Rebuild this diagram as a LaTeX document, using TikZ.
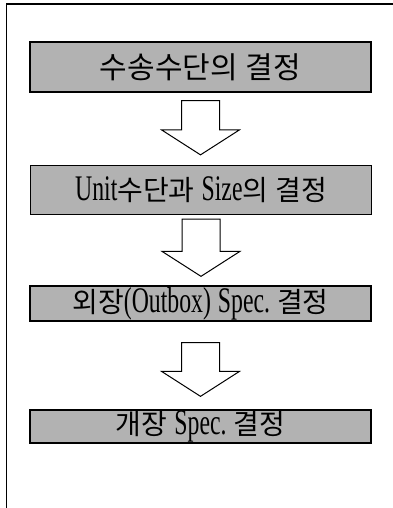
\documentclass[tikz,border=0pt]{standalone}
\usepackage{fontspec}
\setmainfont{Liberation Serif}
\newfontfamily\kr{Noto Sans CJK KR}
\usetikzlibrary{calc}
\newcommand{\lt}[1]{\scalebox{0.66}[1]{\fontsize{36}{36}\selectfont #1}}
\newcommand{\hg}[1]{{\kr\fontsize{28}{28}\selectfont #1}}
\newcommand{\gapw}{\hspace{7pt}}
\begin{document}
\begin{tikzpicture}[x=1pt,y=-1pt,
  stagebox/.style={draw=black,line width=1.3pt,fill=black!30,inner sep=0pt,
    minimum width=341pt,anchor=center},
  blockarrow/.style={draw=black,line width=1pt,fill=white,line join=miter},
  frameline/.style={draw=black,line width=1.4pt}]
\useasboundingbox (0,0) rectangle (393,508);
\draw[frameline] (6.5,508) -- (6.5,4) -- (393,4);
\node[stagebox,minimum height=50pt] (b1) at (200.5,67) {\kr\fontsize{30}{30}\selectfont 수송수단의\hspace{8pt}결정};
\node[stagebox,minimum height=49pt] (b2) at (201,190) {\lt{Unit}\hg{수단과}\gapw\lt{Size}\hg{의}\gapw\hg{결정}};
\node[stagebox,minimum height=35pt] (b3) at (200.5,303.5) {\hg{외장}\lt{(Outbox)}\gapw\lt{Spec.}\gapw\hg{결정}};
\node[stagebox,minimum height=33pt] (b4) at (200.5,426.5) {\hg{개장}\gapw\lt{Spec.}\gapw\hg{결정}};
% arrow anchors
\coordinate (a1s) at ($(b1.south)+(0,8)$);
\coordinate (a1e) at ($(b2.north)+(0,-10)$);
\coordinate (a2s) at ($(b2.south)+(0,4)$);
\coordinate (a2e) at ($(b3.north)+(0,-9)$);
\coordinate (a3s) at ($(b3.south)+(0,21)$);
\coordinate (a3e) at ($(b4.north)+(0,-13)$);
\foreach \s/\e in {a1s/a1e,a2s/a2e,a3s/a3e}{
  \draw[blockarrow] let \p1=(\s), \p2=(\e) in
    (\x1-19pt,\y1) -- (\x1+19pt,\y1) -- (\x1+19pt,\y2+25pt) -- (\x1+39pt,\y2+25pt)
    -- (\x1,\y2) -- (\x1-39pt,\y2+25pt) -- (\x1-19pt,\y2+25pt) -- cycle;
}
\end{tikzpicture}
\end{document}
